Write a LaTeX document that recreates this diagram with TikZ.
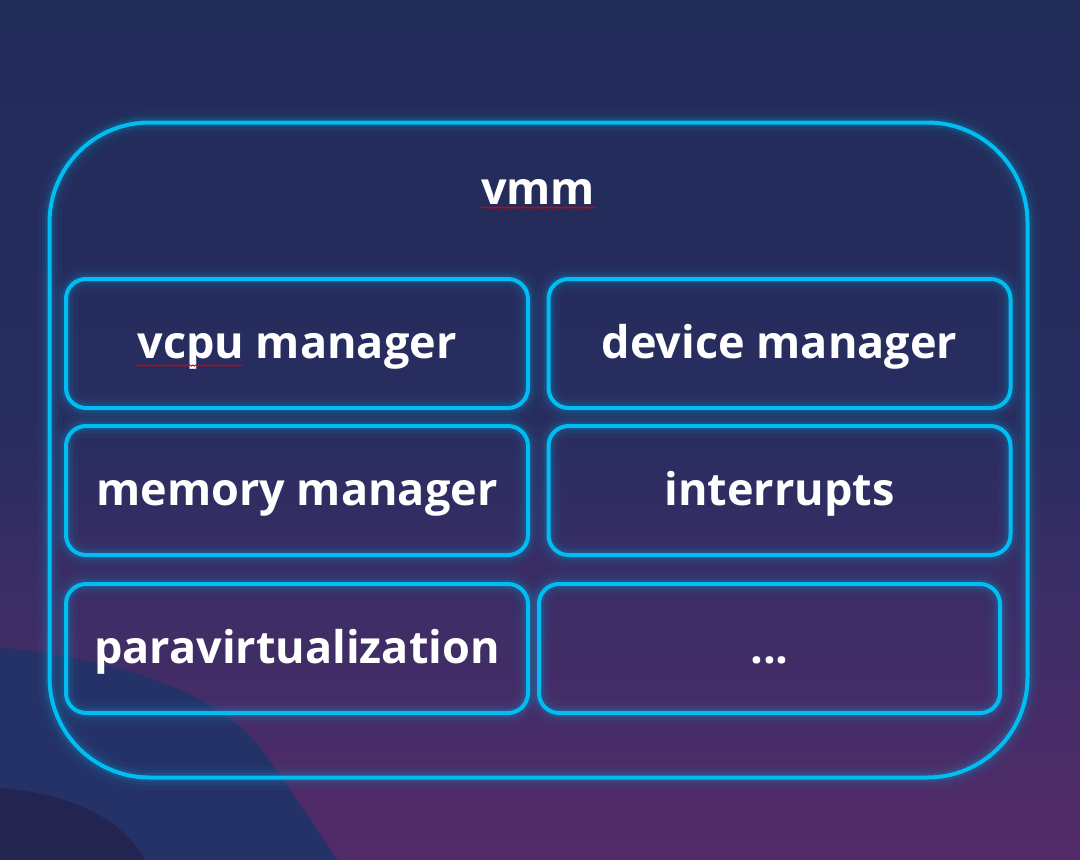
\documentclass[tikz,border=0pt]{standalone}
\usepackage{fontspec}
\setmainfont{Open Sans}
\usepackage{xcolor}
\usetikzlibrary{positioning,decorations.pathmorphing}
\definecolor{neoncyan}{RGB}{0,190,242}
\definecolor{bgtop}{RGB}{33,43,88}
\definecolor{bgmid}{RGB}{40,45,95}
\definecolor{bgpurple}{RGB}{60,45,102}
\definecolor{bgbottom}{RGB}{83,43,104}
\definecolor{blobblue}{RGB}{37,50,104}
\definecolor{blobdark}{RGB}{35,37,80}
\pgfdeclareverticalshading{bgshade}{100bp}{color(0bp)=(bgbottom); color(25bp)=(bgbottom); color(40bp)=(bgpurple); color(50.5bp)=(bgmid); color(75bp)=(bgtop); color(100bp)=(bgtop)}
\tikzset{
  glow/.style={
    preaction={draw=neoncyan,line width=24pt,opacity=.04},
    preaction={draw=neoncyan,line width=15pt,opacity=.07},
    preaction={draw=neoncyan,line width=9pt,opacity=.12}},
  label/.style={text=white,font=\fontsize{45}{50}\selectfont\bfseries},
  module/.style={label,draw=neoncyan,line width=4pt,rounded corners=20pt,glow,
    minimum width=462pt,minimum height=129pt,inner sep=0pt,
    text height=29pt,text depth=0pt},
  squiggle/.style={red!85!black,line width=.8pt,decorate,
    decoration={snake,amplitude=.7pt,segment length=3pt}}
}

\begin{document}
\begin{tikzpicture}[x=1pt,y=-1pt]
        % Background
        \shade[shading=bgshade] (0,0) rectangle (1080,860);
        \fill[blobblue] (0,647) .. controls (120,660) and (215,690) .. (262,750) .. controls (295,795) and (320,835) .. (338,860) -- (0,860) -- cycle;
        \fill[blobdark] (0,788) .. controls (60,793) and (118,812) .. (145,860) -- (0,860) -- cycle;
        \useasboundingbox (0,0) rectangle (1080,860);

        % Outer frame
        \node[draw=neoncyan,line width=4pt,rounded corners=100pt,glow,
          minimum width=978pt,minimum height=655pt] (vmmbox) at (538.5,450) {};
        \node[label,inner sep=0pt] (vmm) at (538,192) {vmm};

        % Modules
        \node[module] (vcpu) at (297,343.5) {vcpu manager};
        \node[module] (device) at (779.5,343.5) {device manager};
        \node[module] (memory) at (297,490.5) {memory manager};
        \node[module] (irq) at (779.5,490.5) {interrupts};
        \node[module] (pv) at (297,648.5) {paravirtualization};
        \node[module,minimum width=461pt] (more) at (769.5,648.5) {...};

        % Spell check marks
        \draw[squiggle] ([yshift=-3pt]vmm.base west) -- ([yshift=-3pt]vmm.base east);
        \draw[squiggle] ([xshift=-162pt,yshift=-22pt]vcpu.center) -- ([xshift=-54pt,yshift=-22pt]vcpu.center);
\end{tikzpicture}
\end{document}
